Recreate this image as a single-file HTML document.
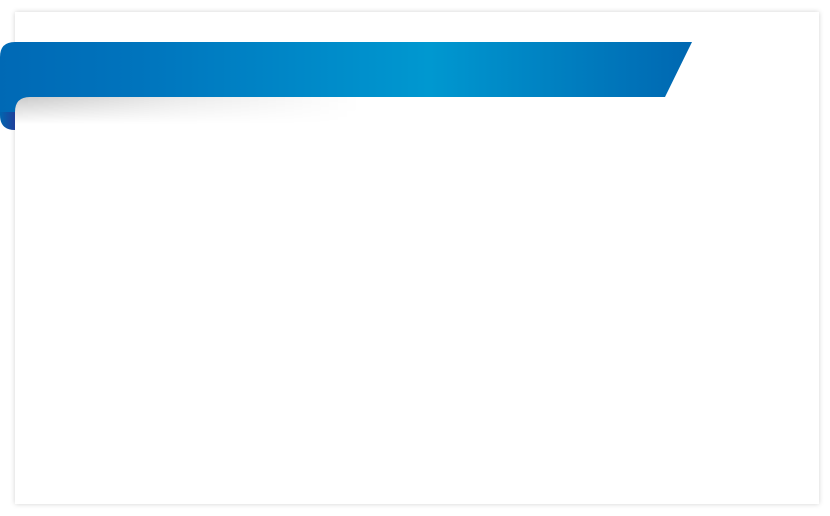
<!DOCTYPE html>
<html><head><style>
html,body{margin:0;padding:0;background:#fff;width:830px;height:516px;overflow:hidden}
.card{position:absolute;left:15px;top:12px;width:804px;height:492px;background:#fff;box-shadow:0 0 5px rgba(0,0,0,0.18)}
</style></head><body>
<div class="card"></div>
<svg width="830" height="516" style="position:absolute;left:0;top:0">
<defs>
<linearGradient id="g" x1="0" x2="692" y1="0" y2="0" gradientUnits="userSpaceOnUse">
<stop offset="0" stop-color="#0069b5"/>
<stop offset="0.2" stop-color="#0074bd"/>
<stop offset="0.62" stop-color="#0098d0"/>
<stop offset="1" stop-color="#0067b1"/>
</linearGradient>
<linearGradient id="s" x1="0" x2="360" y1="0" y2="0" gradientUnits="userSpaceOnUse">
<stop offset="0" stop-color="#000" stop-opacity="0.22"/>
<stop offset="0.5" stop-color="#000" stop-opacity="0.08"/>
<stop offset="1" stop-color="#000" stop-opacity="0"/>
</linearGradient>
<linearGradient id="sv" x1="0" x2="0" y1="97" y2="124" gradientUnits="userSpaceOnUse">
<stop offset="0" stop-color="#fff" stop-opacity="1"/>
<stop offset="1" stop-color="#fff" stop-opacity="0"/>
</linearGradient>
<mask id="m"><rect x="0" y="97" width="400" height="28" fill="url(#sv)"/></mask>
<linearGradient id="f" x1="0" x2="15" y1="0" y2="0" gradientUnits="userSpaceOnUse">
<stop offset="0" stop-color="#0066b0"/>
<stop offset="1" stop-color="#1f3f9a"/>
</linearGradient>
</defs>
<rect x="15" y="97" width="360" height="28" fill="url(#s)" mask="url(#m)"/>
<path d="M0,97 L15,97 L15,130 Q0,130 0,115 Z" fill="url(#f)"/>
<path d="M15,42 L692,42 L665,97 L30,97 Q15,97 15,112 L0,112 L0,57 Q0,42 15,42 Z" fill="url(#g)"/>
</svg>
</body></html>
